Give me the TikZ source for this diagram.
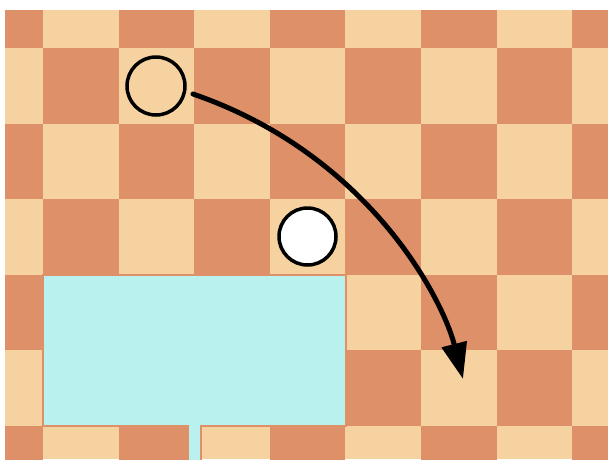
\documentclass[tikz,border=0pt]{standalone}
\usetikzlibrary{arrows.meta}
\definecolor{sqdark}{RGB}{222,145,104}
\definecolor{sqlight}{RGB}{246,210,160}
\definecolor{pool}{RGB}{185,241,238}
\tikzset{
  ringnode/.style={circle, draw=black, line width=3.5pt, inner sep=0pt, minimum size=58pt},
  movearrow/.style={line width=5pt, line cap=round, -{Triangle[length=36pt,width=25pt]}}
}
\begin{document}
\begin{tikzpicture}[x=1pt,y=-1pt]
\useasboundingbox[fill=white] (0,0) rectangle (608,459);
\begin{scope}
  \clip (5,10) rectangle (608,459);
  \fill[sqlight] (5,10) rectangle (608,459);
  \foreach \i in {-1,...,7}{
    \foreach \j in {-1,...,5}{
      \pgfmathtruncatemacro\sqpar{mod(\i+\j+10,2)}
      \ifnum\sqpar=0
        \fill[sqdark] ({43+75.6*\i},{48+75.6*\j}) rectangle ++(75.6,75.6);
      \fi
    }
  }
  \draw[fill=pool, draw=sqdark, line width=1.5pt]
    (43,275) -- (346,275) -- (346,426) -- (201,426) -- (201,470)
    -- (188,470) -- (188,426) -- (43,426) -- cycle;
\end{scope}
\node[ringnode] (a) at (156,86) {};
\node[ringnode, fill=white, minimum size=57pt] (b) at (307.5,236.5) {};
\coordinate (s) at (193,94);
\coordinate (t) at (463,379);
\draw[movearrow] (s) .. controls (370,155) and (443,300) .. (t);
\end{tikzpicture}
\end{document}
